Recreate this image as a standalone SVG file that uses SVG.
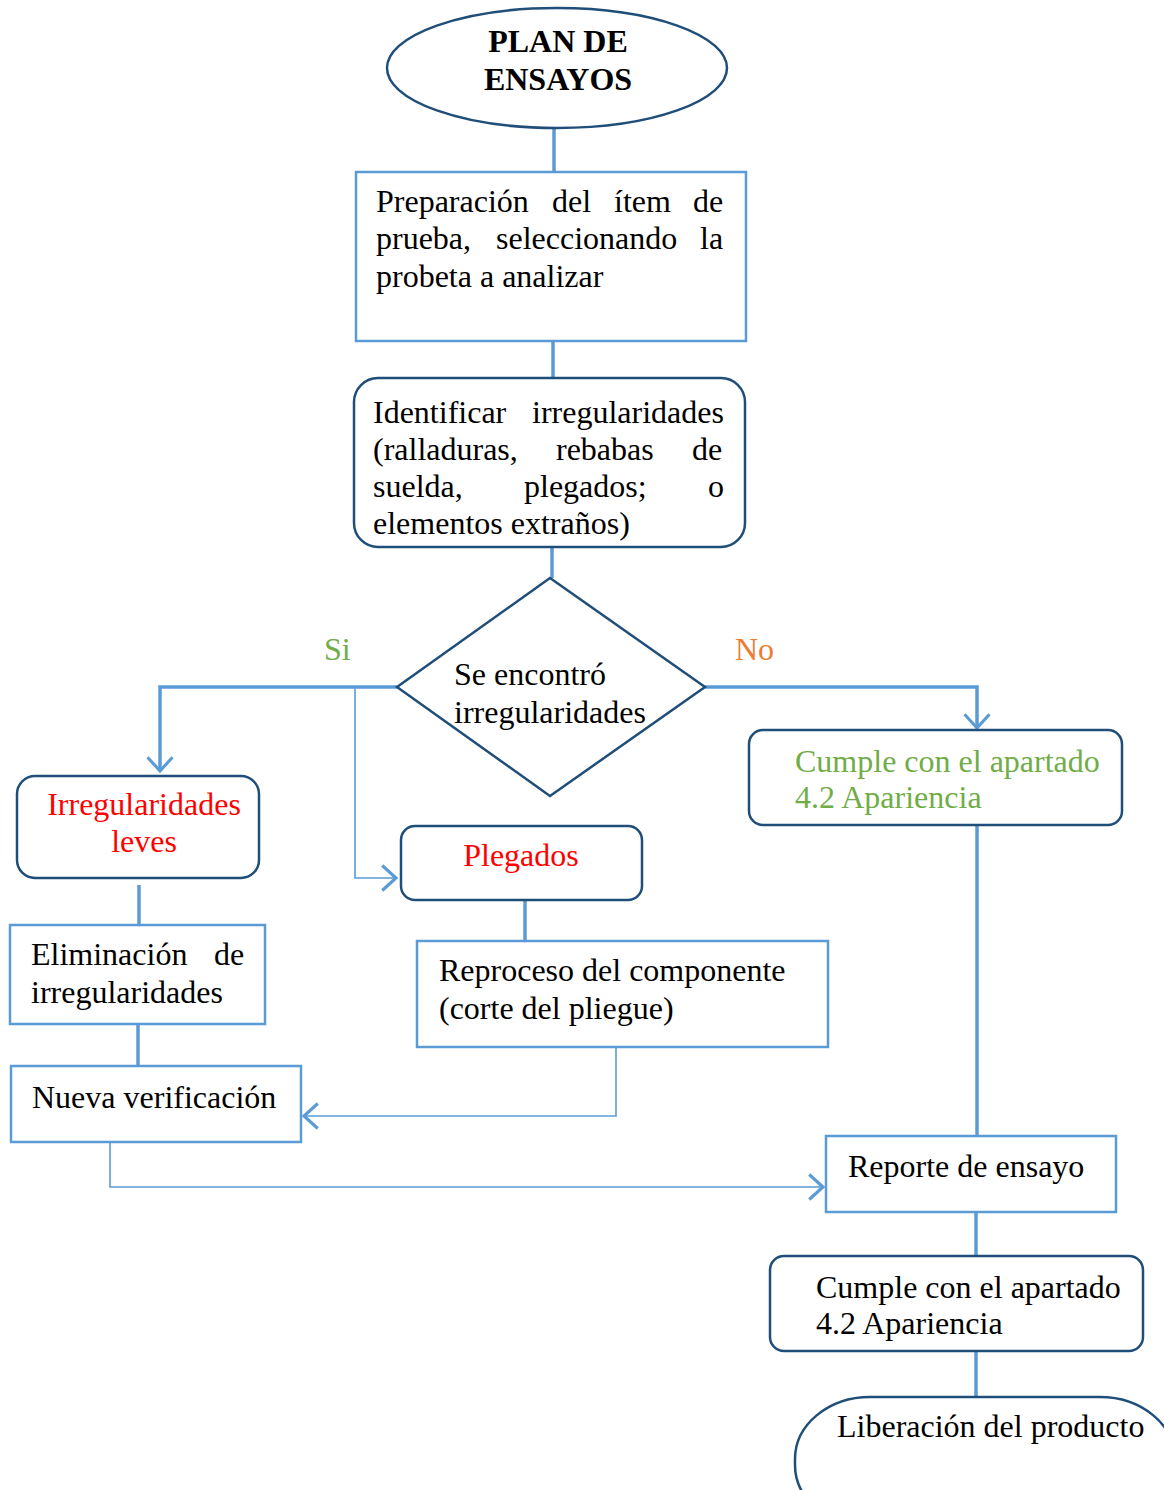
<svg xmlns="http://www.w3.org/2000/svg" width="1164" height="1490" viewBox="0 0 1164 1490">
<defs>
<style>
.t{font-family:"Liberation Serif","Times New Roman",serif;font-size:32px;fill:#000}
.b{font-weight:bold}
.red{fill:#ff0000}
.grn{fill:#70ad47}
.org{fill:#ed7d31}
.dk{fill:#fff;stroke:#1f4e79;stroke-width:2.5}
.lt{fill:#fff;stroke:#5b9bd5;stroke-width:2.5}
.c{fill:none;stroke:#5b9bd5;stroke-width:3.5}
.ct{fill:none;stroke:#5b9bd5;stroke-width:1.6}
</style>
<marker id="ar" markerUnits="userSpaceOnUse" markerWidth="30" markerHeight="30" viewBox="-14 -12 16 24" refX="0" refY="0" orient="auto">
<path d="M-11,-10 L0,0 L-11,10" fill="none" stroke="#5b9bd5" stroke-width="2.5"/>
</marker>
</defs>
<rect width="1164" height="1490" fill="#fff"/>

<g id="connectors">
<line class="c" x1="554" y1="128" x2="554" y2="172"/>
<line class="c" x1="553" y1="341" x2="553" y2="385"/>
<line class="c" x1="552" y1="547" x2="552" y2="578"/>
<polyline class="c" points="397,687 160,687 160,771" marker-end="url(#ar)"/>
<polyline class="ct" points="355,687 355,878 396,878" marker-end="url(#ar)"/>
<polyline class="c" points="705,687 977,687 977,728" marker-end="url(#ar)"/>
<line class="c" x1="139" y1="885" x2="139" y2="925"/>
<line class="c" x1="138" y1="1024" x2="138" y2="1066"/>
<line class="c" x1="525" y1="900" x2="525" y2="941"/>
<polyline class="ct" points="616,1047 616,1116 304,1116" marker-end="url(#ar)"/>
<polyline class="ct" points="110,1142 110,1187 823,1187" marker-end="url(#ar)"/>
<line class="c" x1="977" y1="825" x2="977" y2="1136"/>
<line class="c" x1="976" y1="1212" x2="976" y2="1256"/>
<line class="c" x1="976" y1="1351" x2="976" y2="1397"/>
</g>

<g id="plan">
<ellipse class="dk" cx="557" cy="68" rx="170" ry="60"/>
<text class="t b" x="558" y="52" text-anchor="middle">PLAN DE</text>
<text class="t b" x="558" y="90" text-anchor="middle">ENSAYOS</text>
</g>

<g id="preparacion">
<rect class="lt" x="356" y="172" width="390" height="169"/>
<text class="t" y="212"><tspan x="376">Preparación</tspan><tspan x="552">del</tspan><tspan x="614">ítem</tspan><tspan x="693">de</tspan></text>
<text class="t" y="249"><tspan x="376">prueba,</tspan><tspan x="496">seleccionando</tspan><tspan x="700">la</tspan></text>
<text class="t" x="376" y="287">probeta a analizar</text>
</g>

<g id="identificar">
<rect class="dk" x="354" y="378" width="391" height="169" rx="24"/>
<text class="t" y="423"><tspan x="373">Identificar</tspan><tspan x="532">irregularidades</tspan></text>
<text class="t" y="460"><tspan x="373">(ralladuras,</tspan><tspan x="556">rebabas</tspan><tspan x="692">de</tspan></text>
<text class="t" y="497"><tspan x="373">suelda,</tspan><tspan x="524">plegados;</tspan><tspan x="708">o</tspan></text>
<text class="t" x="373" y="534">elementos extraños)</text>
</g>

<g id="decision">
<polygon class="dk" points="550,578 705,687 550,796 397,687"/>
<text class="t" x="454" y="685">Se encontró</text>
<text class="t" x="454" y="723">irregularidades</text>
</g>

<g id="labels">
<text class="t grn" x="324" y="660">Si</text>
<text class="t org" x="735" y="660">No</text>
</g>

<g id="leves">
<rect class="dk" x="17" y="776" width="242" height="102" rx="18"/>
<text class="t red" x="144" y="815" text-anchor="middle">Irregularidades</text>
<text class="t red" x="144" y="852" text-anchor="middle">leves</text>
</g>

<g id="eliminacion">
<rect class="lt" x="10" y="925" width="255" height="99"/>
<text class="t" y="965"><tspan x="31">Eliminación</tspan><tspan x="214">de</tspan></text>
<text class="t" x="31" y="1003">irregularidades</text>
</g>

<g id="nueva">
<rect class="lt" x="11" y="1066" width="290" height="76"/>
<text class="t" x="32" y="1108">Nueva verificación</text>
</g>

<g id="plegados">
<rect class="dk" x="401" y="826" width="241" height="74" rx="14"/>
<text class="t red" x="521" y="866" text-anchor="middle">Plegados</text>
</g>

<g id="reproceso">
<rect class="lt" x="417" y="941" width="411" height="106"/>
<text class="t" x="439" y="981">Reproceso del componente</text>
<text class="t" x="439" y="1019">(corte del pliegue)</text>
</g>

<g id="cumple1">
<rect class="dk" x="749" y="730" width="373" height="95" rx="14"/>
<text class="t grn" x="795" y="772">Cumple con el apartado</text>
<text class="t grn" x="795" y="808">4.2 Apariencia</text>
</g>

<g id="reporte">
<rect class="lt" x="826" y="1136" width="290" height="76"/>
<text class="t" x="848" y="1177">Reporte de ensayo</text>
</g>

<g id="cumple2">
<rect class="dk" x="770" y="1256" width="373" height="95" rx="14"/>
<text class="t" x="816" y="1298">Cumple con el apartado</text>
<text class="t" x="816" y="1334">4.2 Apariencia</text>
</g>

<g id="liberacion">
<rect class="dk" x="795" y="1397" width="380" height="130" rx="75" ry="62"/>
<text class="t" x="837" y="1437">Liberación del producto</text>
</g>
</svg>
